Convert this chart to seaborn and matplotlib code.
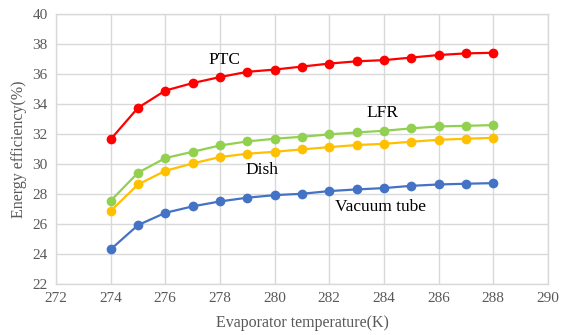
import numpy as np
import pandas as pd
import matplotlib
matplotlib.use("Agg")
import matplotlib.pyplot as plt
import seaborn as sns

temps = list(range(274, 289))
ptc = [31.65, 33.75, 34.9, 35.4, 35.8, 36.15, 36.3, 36.5, 36.7, 36.85, 36.93, 37.1, 37.27, 37.38, 37.42]
lfr = [27.55, 29.42, 30.4, 30.82, 31.24, 31.51, 31.69, 31.82, 31.98, 32.11, 32.22, 32.38, 32.51, 32.55, 32.6]
dish = [26.87, 28.64, 29.55, 30.04, 30.47, 30.69, 30.82, 30.98, 31.13, 31.27, 31.35, 31.49, 31.62, 31.69, 31.75]
vacuum = [24.31, 25.93, 26.75, 27.18, 27.51, 27.76, 27.93, 28.02, 28.2, 28.31, 28.4, 28.55, 28.64, 28.69, 28.73]
series_names = ["PTC", "LFR", "Dish", "Vacuum tube"]
colors = ["#FF0000", "#92D050", "#FFC000", "#4472C4"]
xticks = list(range(272, 291, 2))
yticks = list(range(22, 41, 2))

df = pd.concat([
    pd.DataFrame({"T": temps, "E": vals, "S": name})
    for name, vals in zip(series_names, [ptc, lfr, dish, vacuum])
])

sns.set_theme(style="white")
plt.rcParams["font.family"] = ["Liberation Serif", "DejaVu Serif"]

fig = plt.figure(figsize=(5.62, 3.35), dpi=100)
ax = fig.add_axes([0.0996, 0.152, 0.8754, 0.806])

sns.lineplot(data=df, x="T", y="E", hue="S", palette=colors, hue_order=series_names,
             marker="o", markersize=7, markeredgewidth=0, linewidth=1.6, ax=ax, legend=False)

ax.set_xlim(272, 290)
ax.set_ylim(22, 40)
ax.set_xticks(xticks)
ax.set_yticks(yticks)
ax.grid(True, color="#D9D9D9", linewidth=1)
ax.set_axisbelow(True)
for s in ax.spines.values():
    s.set_color("#D9D9D9")
    s.set_linewidth(1)
ax.tick_params(axis="both", labelsize=11, colors="#595959", length=0, pad=6)
for lab in ax.get_xticklabels() + ax.get_yticklabels():
    lab.set_color("#595959")
ax.set_xlabel("Evaporator temperature(K)", fontsize=11.5, color="#595959", labelpad=7)
ax.set_ylabel("Energy efficiency(%)", fontsize=11.5, color="#595959", labelpad=4)

label_pos = {"PTC": (278.18, 36.93), "LFR": (283.96, 33.4), "Dish": (279.54, 29.6), "Vacuum tube": (283.86, 27.13)}
for name, (x, y) in label_pos.items():
    ax.text(x, y, name, fontsize=12.5, ha="center", va="center", color="black")

fig.savefig("out.png", dpi=100)
